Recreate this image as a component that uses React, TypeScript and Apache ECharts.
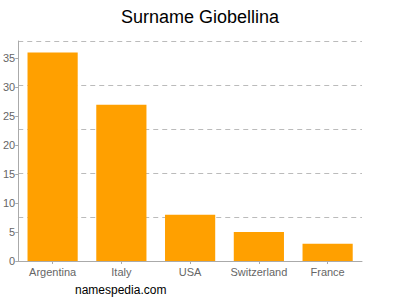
import React, { useEffect, useRef } from "react";
import * as echarts from "echarts";

const categories = ["Argentina", "Italy", "USA", "Switzerland", "France"];
const values = [36, 27, 8, 5, 3];
const yMax = 38;

export default function App() {
  const ref = useRef<HTMLDivElement>(null);
  useEffect(() => {
    const chart = echarts.init(ref.current!, null, { renderer: "svg" });
    chart.setOption({
      animation: false,
      title: {
        text: "Surname Giobellina",
        left: "center",
        top: 3,
        textStyle: { fontFamily: "Liberation Sans", fontSize: 18, fontWeight: "normal", color: "#000" },
      },
      graphic: [
        {
          type: "text",
          left: 75,
          top: 284,
          style: { text: "namespedia.com", fontFamily: "Liberation Sans", fontSize: 12, fill: "#000" },
        },
      ],
      grid: { left: 17, right: 38, top: 41, bottom: 39 },
      xAxis: {
        type: "category",
        data: categories,
        axisLine: { lineStyle: { color: "#aaa" } },
        axisTick: { show: true, alignWithLabel: true, lineStyle: { color: "#aaa" }, length: 3 },
        axisLabel: { interval: 0, color: "#666", fontFamily: "Liberation Sans", fontSize: 11, margin: 5 },
      },
      yAxis: [
        {
          type: "value",
          min: 0,
          max: yMax,
          interval: 5,
          axisLine: { show: true, lineStyle: { color: "#aaa" } },
          axisTick: { show: true, length: 3, lineStyle: { color: "#aaa" } },
          axisLabel: { color: "#666", fontFamily: "Liberation Sans", fontSize: 11, margin: 3, showMaxLabel: false },
          splitLine: { show: false },
        },
        {
          type: "value",
          min: 0,
          max: yMax,
          interval: yMax / 5,
          position: "left",
          axisLine: { show: false },
          axisTick: { show: false },
          axisLabel: { show: false },
          splitLine: { show: true, lineStyle: { color: "#bbb", type: [5, 4] } },
        },
      ],
      series: [
        {
          type: "bar",
          data: values,
          yAxisIndex: 0,
          barCategoryGap: "27%",
          itemStyle: { color: "#ffa000" },
        },
      ],
    });
    return () => chart.dispose();
  }, []);
  return <div ref={ref} style={{ position: "absolute", left: 0, top: 0, width: 400, height: 300 }} />;
}
